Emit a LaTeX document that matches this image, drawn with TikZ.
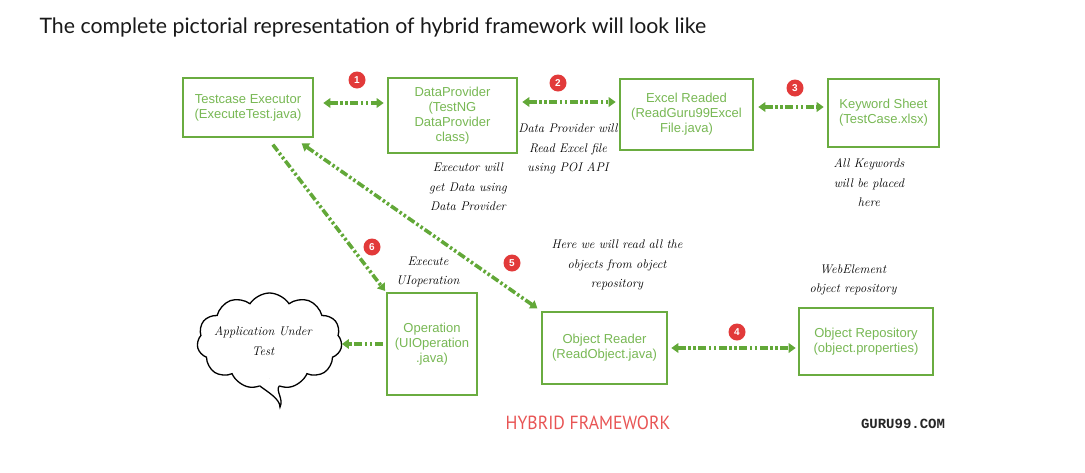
\documentclass[tikz,border=0pt]{standalone}
\usepackage{fontspec}
\usetikzlibrary{arrows.meta, positioning, shapes.symbols, shadows}
\newfontfamily\titlefont{Lato}
\newfontfamily\boxfont{Liberation Sans}
\newfontfamily\stampfont{Liberation Mono}
\newfontfamily\bannerfont{PT Sans}[FakeStretch=0.93]
\definecolor{boxgreen}{RGB}{106,172,64}
\definecolor{textgreen}{RGB}{120,184,84}
\definecolor{linkgreen}{RGB}{98,168,56}
\definecolor{stepred}{RGB}{226,58,58}
\definecolor{bannerred}{RGB}{232,84,84}

\begin{document}
\begin{tikzpicture}[x=1pt, y=-1pt,
    comp/.style={draw=boxgreen, line width=2.6pt, fill=white, align=center, inner sep=2pt,
        font=\boxfont\fontsize{13}{15}\selectfont, text=textgreen,
        drop shadow={opacity=0.25, shadow xshift=1.2pt, shadow yshift=-1.2pt}},
    link/.style={draw=linkgreen, line width=3.6pt,
        dash pattern=on 8pt off 2.5pt on 2.5pt off 2.5pt on 2.5pt off 2.5pt,
        -{Triangle[length=7pt, width=9.5pt]}},
    biglink/.style={link, {Triangle[length=7pt, width=9.5pt]}-{Triangle[length=7pt, width=9.5pt]}},
    note/.style={align=center, font=\itshape\fontsize{12.5}{19.5}\selectfont, text=black},
    stepno/.style={circle, fill=stepred, text=white, inner sep=0pt, minimum size=17pt,
        font=\boxfont\bfseries\fontsize{10}{10}\selectfont}]

\useasboundingbox (0,0) rectangle (1085,472);

% Heading
\node[anchor=base west, font=\titlefont\fontsize{21.3}{24}\selectfont, text=black!90] (head) at (36,33)
    {The complete pictorial representation of hybrid framework will look like};

% Top row
\node[comp, minimum width=130pt, minimum height=59pt] (exec) at (248,107.5)
    {Testcase Executor\\(ExecuteTest.java)};
\node[comp, minimum width=129pt, minimum height=75pt] (dprov) at (452.5,115.5)
    {DataProvider\\(TestNG\\DataProvider\\class)};
\node[comp, minimum width=133pt, minimum height=71pt] (excel) at (686.5,114.5)
    {Excel Readed\\(ReadGuru99Excel\\File.java)};
\node[comp, minimum width=111pt, minimum height=68pt] (keyws) at (883.5,113)
    {Keyword Sheet\\(TestCase.xlsx)};

% Bottom row
\node[comp, minimum width=90pt, minimum height=102pt] (oper) at (432,344)
    {Operation\\(UIOperation\\.java)};
\node[comp, minimum width=125pt, minimum height=72pt] (objrd) at (604.5,348)
    {Object Reader\\(ReadObject.java)};
\node[comp, minimum width=134pt, minimum height=67pt] (objrep) at (866,341.5)
    {Object Repository\\(object.properties)};

% Application under test
\node[cloud, cloud puffs=11, cloud puff arc=115, aspect=1.5, draw=black, line width=1.3pt, fill=white,
    minimum width=145pt, minimum height=96pt, inner sep=0pt] (aut) at (269.5,341) {};
\fill[white] (aut.258) -- (aut.282) -- ([yshift=8pt]aut.282) -- ([yshift=8pt]aut.258) -- cycle;
\draw[black, line width=1.3pt, fill=white] ([yshift=1pt]aut.258) .. controls +(8,6) and +(0,-8) .. (280,407)
    .. controls +(4,-8) and +(-4,5) .. ([yshift=1pt]aut.282);
\node[note] (auttext) at (263,341) {Application Under\\Test};

% Connectors
\draw[biglink, shorten <=9pt, shorten >=3pt] ([yshift=4.5pt]exec.east) -- ([yshift=4.5pt]exec.east -| dprov.west);
\draw[biglink, shorten <=4pt, shorten >=3pt] ([yshift=13.5pt]dprov.east) -- ([yshift=13.5pt]dprov.east -| excel.west);
\draw[biglink, shorten <=4pt, shorten >=3pt] ([yshift=7.5pt]excel.east) -- ([yshift=7.5pt]excel.east -| keyws.west);
\draw[biglink, shorten <=3pt, shorten >=2pt] (objrd.east) -- (objrd.east -| objrep.west);
\draw[biglink, shorten <=9pt, shorten >=4pt] ([xshift=-20pt]exec.south east) -- (objrd.north west);
\draw[link, shorten <=8pt, shorten >=1pt] ([xshift=20pt]exec.south) -- (oper.north west);
\draw[link, shorten <=3pt, shorten >=0pt] (oper.west) -- (oper.west -| aut.east);

% Step numbers
\node[stepno] (s1) at (357,80) {1};
\node[stepno] (s2) at (558,83) {2};
\node[stepno] (s3) at (795,88) {3};
\node[stepno] (s4) at (737,332) {4};
\node[stepno] (s5) at (512,263) {5};
\node[stepno] (s6) at (372,247) {6};

% Notes
\node[note] (n1) at (468,187) {Executor will\\get Data using\\Data Provider};
\node[note] (n2) at (568,149) {Data Provider will\\Read Excel file\\using POI API};
\node[note] (n3) at (869,183) {All Keywords\\will be placed\\here};
\node[note] (n4) at (617,265) {Here we will read all the\\objects from object\\repository};
\node[note] (n5) at (428,272) {Execute\\UIoperation};
\node[note] (n6) at (853,280) {WebElement\\object repository};

% Footer
\node[font=\bannerfont\fontsize{19}{20}\selectfont, text=bannerred] (banner) at (588,423) {HYBRID FRAMEWORK};
\node[font=\stampfont\bfseries\fontsize{14}{15}\selectfont, text=black!85] (stamp) at (903,424) {GURU99.COM};

\end{tikzpicture}
\end{document}
